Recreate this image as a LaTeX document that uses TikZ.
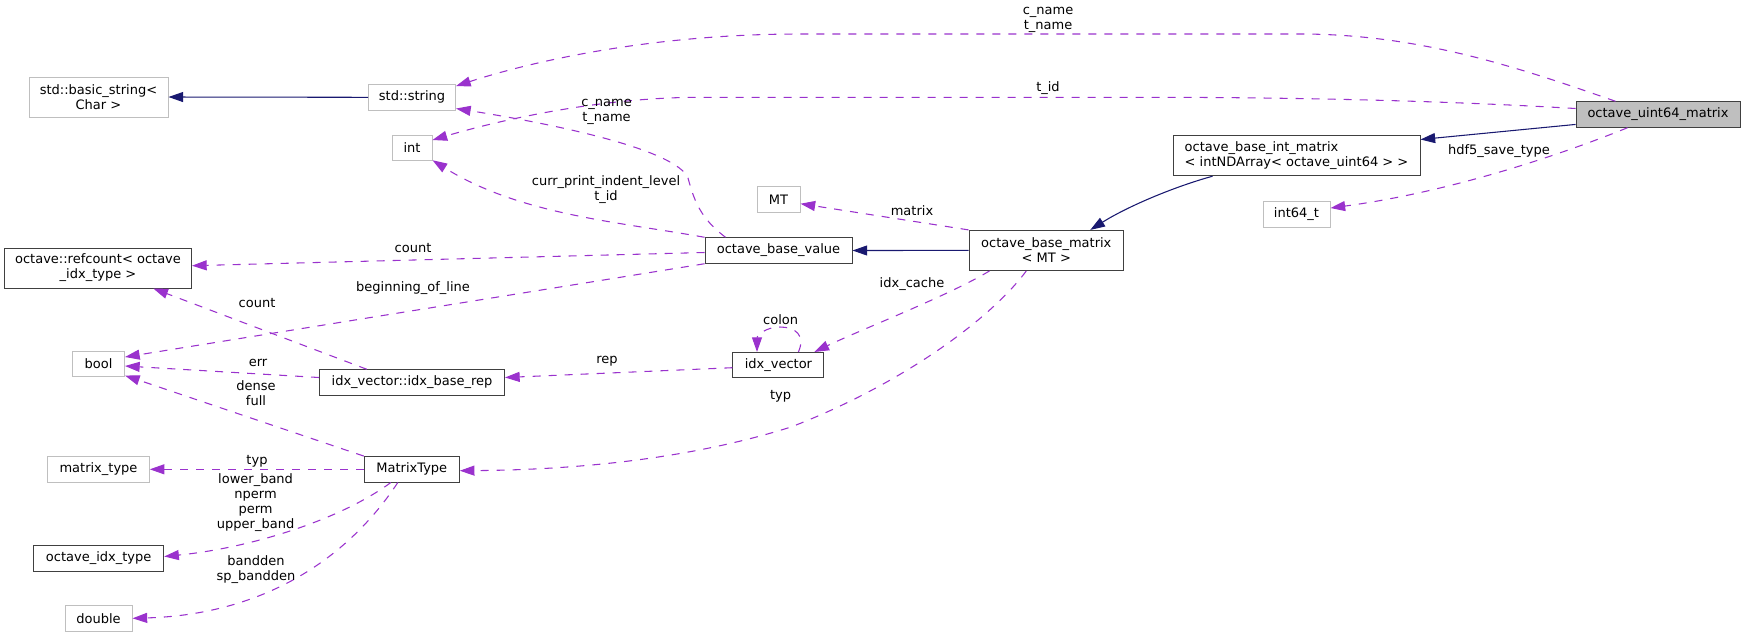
\documentclass[tikz,border=0pt]{standalone}
\usepackage{fontspec}
\setmainfont{DejaVu Sans}
\usetikzlibrary{arrows.meta,calc}
\definecolor{depc}{HTML}{9A32CD}
\definecolor{inhc}{HTML}{191970}
\definecolor{bdark}{HTML}{404040}
\definecolor{bgray}{HTML}{BFBFBF}
\begin{document}
\begin{tikzpicture}[x=0.75pt,y=-0.75pt,
  every node/.style={font=\fontsize{9.75pt}{11.25pt}\selectfont},
  cls/.style={draw=bdark, line width=0.75pt, rectangle, inner sep=0pt, minimum height=19.1pt, align=center},
  ext/.style={cls, draw=bgray},
  lbl/.style={inner sep=0pt, align=center},
  dep/.style={draw=depc, line width=0.8pt, dash pattern=on 6pt off 6pt, -{Triangle[length=11pt,width=7.5pt]}},
  inh/.style={draw=inhc, line width=0.8pt, -{Triangle[length=11pt,width=7.5pt]}}
]
\useasboundingbox (0,0) rectangle (1745,637);

% nodes
\node[ext, minimum width=104.25pt, minimum height=30pt] (bstr) at (98.5,97) {std::basic\_string<\\Char >};
\node[ext, minimum width=65.25pt] (str) at (412,97.3) {std::string};
\node[ext, minimum width=30pt] (int) at (412,148) {int};
\node[cls, minimum width=140.25pt, minimum height=30pt] (rc) at (98,268) {octave::refcount< octave\\\_idx\_type >};
\node[ext, minimum width=39pt] (bool) at (98.5,364) {bool};
\node[ext, minimum width=76.1pt] (mtype) at (98.5,469.3) {matrix\_type};
\node[cls, minimum width=97.5pt] (oit) at (98.7,558.5) {octave\_idx\_type};
\node[ext, minimum width=50.25pt] (dbl) at (98.5,618.3) {double};
\node[cls, minimum width=138.75pt] (ibr) at (412,382.5) {idx\_vector::idx\_base\_rep};
\node[cls, minimum width=71.25pt] (MTy) at (411.8,469.3) {MatrixType};
\node[ext, minimum width=32.25pt] (MT) at (778.5,199.7) {MT};
\node[cls, minimum width=110.25pt] (obv) at (778.5,250.5) {octave\_base\_value};
\node[cls, minimum width=68.25pt] (iv) at (778.4,365.2) {idx\_vector};
\node[cls, minimum width=115.9pt, minimum height=30pt] (obm) at (1046.3,250.4) {octave\_base\_matrix\\< MT >};
\node[cls, minimum width=185.25pt, minimum height=30pt, align=left] (obim) at (1296.5,155.7) {octave\_base\_int\_matrix\\< intNDArray< octave\_uint64 > >};
\node[ext, minimum width=50.25pt] (i64) at (1296.5,214.5) {int64\_t};
\node[cls, fill=bgray, minimum width=123pt] (u64) at (1658,114.5) {octave\_uint64\_matrix};

% inheritance
\draw[inh] (str.west) -- (bstr.east);
\draw[inh] (obm.west) -- (obv.east);
\draw[inh] ($(obim.south west)+(40,0)$) .. controls (1170,188) and (1125,208) .. ($(obm.north)+(44,0)$);
\draw[inh] ($(u64.south west)+(0,-3.3)$) -- ($(obim.north east)+(0,4.3)$);

% usage
\draw[dep] ($(u64.north west)+(40,0)$) .. controls (1520,68) and (1420,34) .. (1300,34) -- (800,34) .. controls (650,34) and (530,62) .. ($(str.north east)+(0,2)$);
\draw[dep] ($(u64.west)+(0,-6)$) .. controls (1450,101) and (1300,97.3) .. (1150,97.3) -- (700,97.3) .. controls (600,97.3) and (500,120) .. ($(int.east)+(0,-8)$);
\draw[dep] ($(obv.north west)+(21,0)$) .. controls (700,218) and (694,200) .. (688,178) .. controls (676,150) and (560,125) .. ($(str.south east)+(0,-2)$);
\draw[dep] (obv.north west) .. controls (620,222) and (520,215) .. ($(int.south east)+(0,-1)$);
\draw[dep] ($(obv.west)+(0,2)$) -- ($(rc.east)+(0,-2.3)$);
\draw[dep] (obv.south west) -- ($(bool.east)+(0,-7)$);
\draw[dep] ($(ibr.north west)+(47.8,0)$) -- ($(rc.south east)+(-38.7,0)$);
\draw[dep] ($(ibr.west)+(0,-5)$) -- ($(bool.east)+(0,2)$);
\draw[dep] (MTy.north west) -- ($(bool.south east)+(0,-1.7)$);
\draw[dep] (MTy.west) -- (mtype.east);
\draw[dep] ($(MTy.south)+(-21,0)$) .. controls (340,520) and (250,548) .. ($(oit.east)+(0,-2)$);
\draw[dep] ($(MTy.south)+(-14,0)$) .. controls (340,570) and (250,615) .. (dbl.east);
\draw[dep] ($(iv.west)+(0,2.5)$) -- ($(ibr.east)+(0,-5)$);
\draw[dep] ($(iv.north)+(20,0)$) .. controls (806,335) and (795,327) .. (780,327) .. controls (765,327) and (757,336) .. ($(iv.north)+(-21.4,0)$);
\draw[dep] (obm.north west) -- ($(MT.east)+(0,4)$);
\draw[dep] ($(obm.south west)+(21,0)$) .. controls (950,295) and (860,330) .. ($(iv.north east)+(-10,0)$);
\draw[dep] ($(obm.south)+(-20,0)$) .. controls (990,320) and (900,385) .. (791,427) .. controls (680,462) and (560,470) .. ($(MTy.east)+(0,1.4)$);
\draw[dep] ($(u64.south west)+(52,0)$) .. controls (1560,155) and (1450,192) .. ($(i64.east)+(0,-6.5)$);

% labels
\node[lbl] (l1) at (1048,19.5) {c\_name\\t\_name};
\node[lbl] (l2) at (1048,88) {t\_id};
\node[lbl] (l3) at (606.5,112) {c\_name\\t\_name};
\node[lbl] (l4) at (606,190) {curr\_print\_indent\_level\\t\_id};
\node[lbl] (l5) at (413,248) {count};
\node[lbl] (l6) at (413,288) {beginning\_of\_line};
\node[lbl] (l7) at (257,303) {count};
\node[lbl] (l8) at (258,362.7) {err};
\node[lbl] (l9) at (256,393) {dense\\full};
\node[lbl] (l10) at (257,461) {typ};
\node[lbl] (l11) at (255.6,502.5) {lower\_band\\nperm\\perm\\upper\_band};
\node[lbl] (l12) at (256,569.7) {bandden\\sp\_bandden};
\node[lbl] (l13) at (607,361) {rep};
\node[lbl] (l14) at (780.6,320) {colon};
\node[lbl] (l15) at (780.6,396.7) {typ};
\node[lbl] (l16) at (912,210.7) {matrix};
\node[lbl] (l17) at (912,284) {idx\_cache};
\node[lbl] (l18) at (1499,150.7) {hdf5\_save\_type};
\end{tikzpicture}
\end{document}
